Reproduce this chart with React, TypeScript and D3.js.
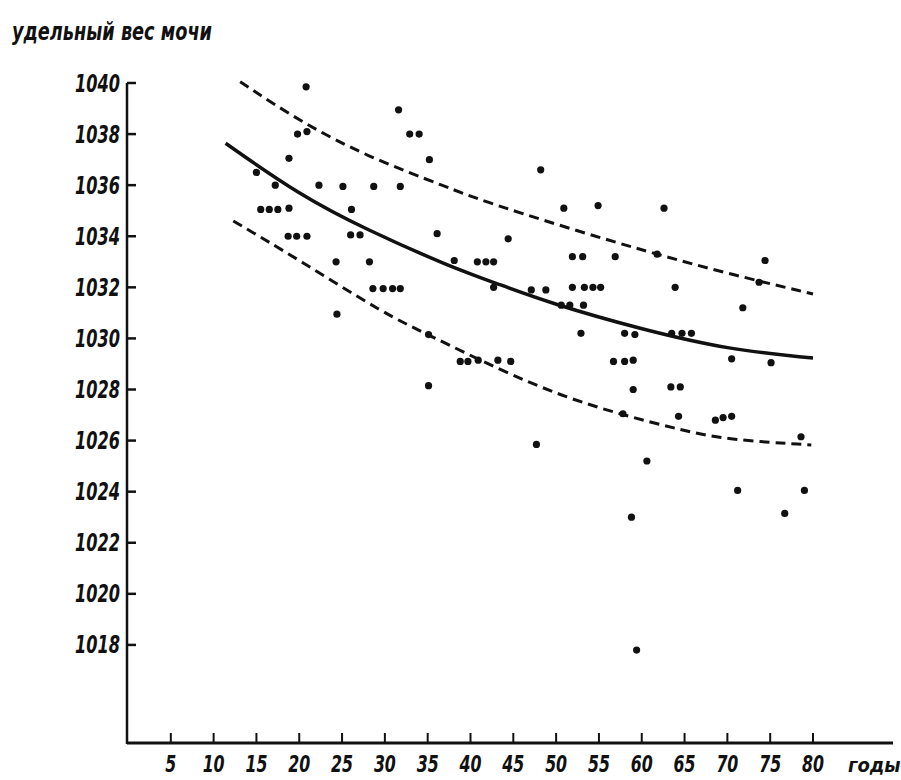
import React from "react";
import * as d3 from "d3";

// ---- data ----
const yTicks = [1018, 1020, 1022, 1024, 1026, 1028, 1030, 1032, 1034, 1036, 1038, 1040];
const xTicks = [5, 10, 15, 20, 25, 30, 35, 40, 45, 50, 55, 60, 65, 70, 75, 80];

const pointAge = [
  20.8, 31.6, 19.8, 20.9, 32.9, 34.0, 18.8, 35.2, 15.0, 17.2, 22.3, 25.1, 28.7, 31.8,
  15.5, 16.5, 17.5, 18.8, 26.1, 18.7, 19.7, 20.9, 26.0, 27.1, 36.1, 24.3, 28.2,
  28.6, 29.8, 30.9, 31.8, 44.4, 38.1, 40.8, 41.8, 42.7, 42.7, 47.1, 48.8, 24.4,
  35.1, 38.8, 39.7, 40.9, 43.2, 44.7, 35.1, 47.7, 48.2, 50.9, 54.9, 62.6, 51.9,
  53.1, 56.9, 61.8, 51.9, 53.3, 54.3, 55.2, 63.9, 50.6, 51.6, 53.2, 52.9, 58.0,
  59.2, 63.5, 64.7, 65.8, 56.7, 58.0, 59.0, 59.0, 63.4, 64.5, 57.8, 64.3, 68.6,
  69.5, 70.5, 60.6, 58.8, 59.4, 74.4, 73.7, 71.8, 70.5, 75.1, 78.6, 71.2, 79.0, 76.7,
];
const pointValue = [
  1039.85, 1038.95, 1038.0, 1038.1, 1038.0, 1038.0, 1037.05, 1037.0, 1036.5, 1036.0, 1036.0, 1035.95, 1035.95, 1035.95,
  1035.05, 1035.05, 1035.05, 1035.1, 1035.05, 1034.0, 1034.0, 1034.0, 1034.05, 1034.05, 1034.1, 1033.0, 1033.0,
  1031.95, 1031.95, 1031.95, 1031.95, 1033.9, 1033.05, 1033.0, 1033.0, 1033.0, 1032.0, 1031.9, 1031.9, 1030.95,
  1030.15, 1029.1, 1029.1, 1029.15, 1029.15, 1029.1, 1028.15, 1025.85, 1036.6, 1035.1, 1035.2, 1035.1, 1033.2,
  1033.2, 1033.2, 1033.3, 1032.0, 1032.0, 1032.0, 1032.0, 1032.0, 1031.3, 1031.3, 1031.3, 1030.2, 1030.2,
  1030.15, 1030.2, 1030.2, 1030.2, 1029.1, 1029.1, 1029.15, 1028.0, 1028.1, 1028.1, 1027.05, 1026.95, 1026.8,
  1026.9, 1026.95, 1025.2, 1023.0, 1017.8, 1033.05, 1032.2, 1031.2, 1029.2, 1029.05, 1026.15, 1024.05, 1024.05, 1023.15,
];

const meanAge = [11.4, 20.1, 27.9, 37.6, 43.0, 49.3, 60.0, 70.3, 80.0];
const meanValue = [1037.64, 1035.6, 1034.25, 1032.81, 1032.16, 1031.38, 1030.35, 1029.55, 1029.23];

const upperAge = [13.1, 20.1, 27.9, 37.6, 41.1, 50.8, 60.6, 69.9, 80.0];
const upperValue = [1040.05, 1038.49, 1037.12, 1035.88, 1035.42, 1034.38, 1033.4, 1032.55, 1031.74];

const lowerAge = [12.3, 20.1, 29.8, 35.1, 43.4, 50.8, 57.8, 64.5, 69.9, 79.8];
const lowerValue = [1034.6, 1033.05, 1030.99, 1030.14, 1028.77, 1027.72, 1027.0, 1026.42, 1026.03, 1025.83];

const yTitle = "удельный вес мочи";
const xTitle = "годы";

const W = 901;
const H = 780;
const FONT = "'DejaVu Sans Condensed', 'DejaVu Sans', sans-serif";

export default function App() {
  const x = d3.scaleLinear().domain([0, 80]).range([128, 813]);
  const y = d3.scaleLinear().domain([1014.16, 1040]).range([743, 83]);

  const line = d3
    .line<[number, number]>()
    .x((d) => x(d[0]))
    .y((d) => y(d[1]))
    .curve(d3.curveBasis);

  const mean = line(meanAge.map((a, i) => [a, meanValue[i]]) as [number, number][]) || "";
  const upper = line(upperAge.map((a, i) => [a, upperValue[i]]) as [number, number][]) || "";
  const lower = line(lowerAge.map((a, i) => [a, lowerValue[i]]) as [number, number][]) || "";

  const x0 = x(0) - 1;
  const yBottom = y(1014.16);
  const yTop = y(1040);

  return (
    <svg
      width={W}
      height={H}
      style={{ position: "absolute", left: 0, top: 0, background: "#fff" }}
    >
      <rect x={0} y={0} width={W} height={H} fill="#fff" />
      {/* title */}
      <text
        x={12}
        y={40}
        fontFamily={FONT}
        fontStyle="italic"
        fontWeight="bold"
        fontSize={24}
        textLength={200}
        lengthAdjust="spacingAndGlyphs"
        fill="#111"
      >
        {yTitle}
      </text>

      {/* axes */}
      <line x1={x0} y1={yTop} x2={x0} y2={yBottom + 1} stroke="#111" strokeWidth={2.5} />
      <line x1={x0} y1={yBottom} x2={893} y2={yBottom} stroke="#111" strokeWidth={3} />

      {yTicks.map((t) => (
        <g key={"y" + t}>
          <line x1={x0} x2={x0 + 9} y1={y(t)} y2={y(t)} stroke="#111" strokeWidth={2.5} />
          <text
            x={120}
            y={y(t)}
            textAnchor="end"
            dominantBaseline="central"
            fontFamily={FONT}
            fontStyle="italic"
            fontWeight={600}
            fontSize={25}
            textLength={45}
            lengthAdjust="spacingAndGlyphs"
            fill="#111"
          >
            {t}
          </text>
        </g>
      ))}

      {xTicks.map((t) => (
        <g key={"x" + t}>
          <line x1={x(t)} x2={x(t)} y1={yBottom} y2={yBottom - 10} stroke="#111" strokeWidth={2} />
          <text
            x={x(t)}
            y={772}
            textAnchor="middle"
            fontFamily={FONT}
            fontStyle="italic"
            fontWeight={600}
            fontSize={23}
            textLength={String(t).length === 1 ? 11 : 22}
            lengthAdjust="spacingAndGlyphs"
            fill="#111"
          >
            {t}
          </text>
        </g>
      ))}
      <text
        x={848}
        y={772}
        fontFamily={FONT}
        fontStyle="italic"
        fontWeight="bold"
        fontSize={20}
        fill="#111"
      >
        {xTitle}
      </text>

      {/* curves */}
      <path d={upper} fill="none" stroke="#111" strokeWidth={3} strokeDasharray="10 6" />
      <path d={lower} fill="none" stroke="#111" strokeWidth={3} strokeDasharray="10 6" />
      <path d={mean} fill="none" stroke="#111" strokeWidth={3.5} />

      {/* points */}
      {pointAge.map((a, i) => (
        <circle key={"p" + i} cx={x(a)} cy={y(pointValue[i])} r={3.6} fill="#111" />
      ))}
    </svg>
  );
}
